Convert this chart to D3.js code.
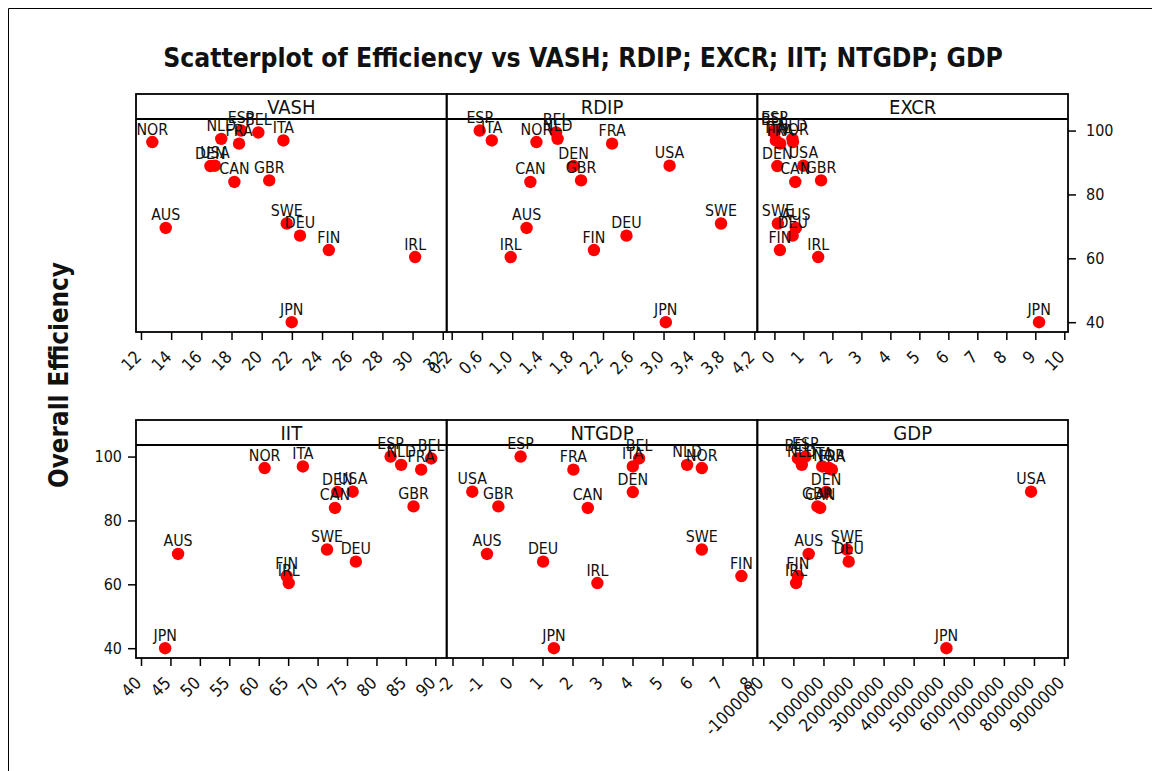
<!DOCTYPE html>
<html><head><meta charset="utf-8">
<script src="https://cdn.jsdelivr.net/npm/d3@7"></script>
<style>
body{margin:0;background:#fff}
svg{display:block}
text{font-family:"DejaVu Sans Condensed","DejaVu Sans",sans-serif;fill:#111}
</style>
</head><body>
<svg id="c" width="1152" height="771"></svg>
<script>
// ---- data ----
const countries  = ["AUS","BEL","CAN","DEN","DEU","ESP","FIN","FRA","GBR","IRL","ITA","JPN","NLD","NOR","SWE","USA"];
const efficiency = [69.5, 99.4, 83.9, 88.9, 67.1, 100.0, 62.6, 95.9, 84.4, 60.4, 96.9, 40.0, 97.4, 96.4, 70.9, 89.0];
const vash  = [13.64, 19.78, 18.19, 16.6, 22.54, 18.63, 24.45, 18.5, 20.5, 30.17, 21.44, 21.99, 17.32, 12.75, 21.66, 16.9];
const rdip  = [1.19, 1.58, 1.24, 1.81, 2.51, 0.57, 2.08, 2.32, 1.91, 0.98, 0.73, 3.03, 1.60, 1.32, 3.76, 3.08];
const excr  = [0.74, 0.0, 0.72, 0.1, 0.63, 0.0, 0.19, 0.2, 1.61, 1.51, 0.05, 9.13, 0.62, 0.64, 0.12, 1.0];
const iit   = [46.3, 89.3, 72.96, 73.35, 76.5, 82.4, 64.75, 87.6, 86.3, 65.1, 67.5, 44.1, 84.2, 61.0, 71.6, 75.96];
const ntgdp = [-0.85, 4.22, 2.51, 4.01, 1.02, 0.27, 7.63, 2.03, -0.47, 2.83, 4.01, 1.38, 5.82, 6.31, 6.31, -1.34];
const gdp   = [510000, 150000, 890000, 1090000, 1840000, 400000, 146000, 1280000, 800000, 90000, 960000, 5090000, 280000, 1190000, 1780000, 7905000];

const vashTicks  = [12,14,16,18,20,22,24,26,28,30,32];
const rdipTicks  = [0.2,0.6,1.0,1.4,1.8,2.2,2.6,3.0,3.4,3.8,4.2];
const excrTicks  = [0,1,2,3,4,5,6,7,8,9,10];
const iitTicks   = [40,45,50,55,60,65,70,75,80,85,90];
const ntgdpTicks = [-2,-1,0,1,2,3,4,5,6,7,8];
const gdpTicks   = [-1000000,0,1000000,2000000,3000000,4000000,5000000,6000000,7000000,8000000,9000000];
const yTicks     = [40,60,80,100];

const titleText = "Scatterplot of Efficiency vs VASH; RDIP; EXCR; IIT; NTGDP; GDP";
const yLabel = "Overall Efficiency";

// ---- layout ----
const svg = d3.select("#c");
const L = 136, PW = 310.67, rowTop = [94, 420], stripH = 25, plotH = 213;
const yDomain = [36.93, 103.62];
const intFmt = d => String(d);
const commaFmt = d => d3.format(".1f")(d).replace(".", ",");

const panels = [
  {name:"VASH",  values:vash,  domain:[11.67, 32.26],      ticks:vashTicks,  fmt:intFmt},
  {name:"RDIP",  values:rdip,  domain:[0.1335, 4.240],     ticks:rdipTicks,  fmt:commaFmt},
  {name:"EXCR",  values:excr,  domain:[-0.589, 10.128],    ticks:excrTicks,  fmt:intFmt},
  {name:"IIT",   values:iit,   domain:[39.15, 91.93],      ticks:iitTicks,   fmt:intFmt},
  {name:"NTGDP", values:ntgdp, domain:[-2.194, 8.161],     ticks:ntgdpTicks, fmt:intFmt},
  {name:"GDP",   values:gdp,   domain:[-1198500, 9133000], ticks:gdpTicks,   fmt:intFmt}
];

// outer frame
svg.append("line").attr("x1",8.5).attr("y1",8.5).attr("x2",8.5).attr("y2",771).attr("stroke","#000").attr("stroke-width",1);
svg.append("line").attr("x1",8.5).attr("y1",8.5).attr("x2",1152).attr("y2",8.5).attr("stroke","#000").attr("stroke-width",1);

// title
const title = svg.append("text").attr("x",583).attr("y",67).attr("text-anchor","middle")
  .attr("font-weight","bold").attr("font-size",24).text(titleText);
{ const w = title.node().getComputedTextLength(); title.attr("font-size", 24*840/w); }

// y label
const yl = svg.append("text").attr("transform","translate(68,375) rotate(-90)").attr("text-anchor","middle")
  .attr("font-weight","bold").attr("font-size",22).text(yLabel);
{ const w = yl.node().getComputedTextLength(); yl.attr("font-size", 22*226/w); }

const layers = [];
panels.forEach((p, i) => {
  const col = i % 3, row = Math.floor(i / 3);
  const x0 = L + col*PW, x1 = x0 + PW;
  const top = rowTop[row], pTop = top + stripH, pBot = pTop + plotH;
  const x = d3.scaleLinear().domain(p.domain).range([x0, x1]);
  const y = d3.scaleLinear().domain(yDomain).range([pBot, pTop]);
  const g = svg.append("g");

  // x axis
  const ax = g.append("g").attr("transform",`translate(0,${pBot})`)
    .call(d3.axisBottom(x).tickValues(p.ticks).tickSize(8).tickSizeOuter(0).tickFormat(p.fmt));
  ax.select(".domain").remove();
  ax.selectAll(".tick line").attr("stroke","#000").attr("stroke-width",1.5);
  ax.selectAll(".tick text").attr("x",0).attr("y",0).attr("dy",0)
    .attr("transform","translate(1,26) rotate(-45)").attr("text-anchor","end")
    .attr("font-size",17.2).attr("fill","#111").attr("font-family",null);

  // y axis
  if (col === 2 && row === 0) {
    const ay = g.append("g").attr("transform",`translate(${x1},0)`)
      .call(d3.axisRight(y).tickValues(yTicks).tickSize(8).tickSizeOuter(0));
    ay.select(".domain").remove();
    ay.selectAll(".tick line").attr("stroke","#000").attr("stroke-width",1.5);
    ay.selectAll(".tick text").attr("x",18).attr("font-size",16).attr("fill","#111").attr("font-family",null);
  }
  if (col === 0 && row === 1) {
    const ay = g.append("g").attr("transform",`translate(${x0},0)`)
      .call(d3.axisLeft(y).tickValues(yTicks).tickSize(8).tickSizeOuter(0));
    ay.select(".domain").remove();
    ay.selectAll(".tick line").attr("stroke","#000").attr("stroke-width",1.5);
    ay.selectAll(".tick text").attr("x",-14).attr("font-size",16).attr("fill","#111").attr("font-family",null);
  }

  const pts = countries.map((c, k) => ({c, xv:p.values[k], yv:efficiency[k]}));
  layers.push({g, x, y, pts});

  // frame and strip
  g.append("rect").attr("x",x0).attr("y",top).attr("width",PW).attr("height",stripH+plotH)
    .attr("fill","none").attr("stroke","#000").attr("stroke-width",1.8);
  g.append("line").attr("x1",x0).attr("x2",x1).attr("y1",pTop).attr("y2",pTop)
    .attr("stroke","#000").attr("stroke-width",1.8);
  g.append("text").attr("x",(x0+x1)/2).attr("y",top+20).attr("text-anchor","middle")
    .attr("font-size",20).text(p.name);
});

// points then labels
layers.forEach(({g, x, y, pts}) => {
  g.append("g").selectAll("circle").data(pts).join("circle")
    .attr("cx", d => x(d.xv)).attr("cy", d => y(d.yv)).attr("r",6.2).attr("fill","#ff0000");
});
layers.forEach(({g, x, y, pts}) => {
  g.append("g").selectAll("text").data(pts).join("text")
    .attr("x", d => x(d.xv)).attr("y", d => y(d.yv) - 7.5).attr("text-anchor","middle")
    .attr("font-size",15.8).text(d => d.c);
});
</script>
</body></html>
